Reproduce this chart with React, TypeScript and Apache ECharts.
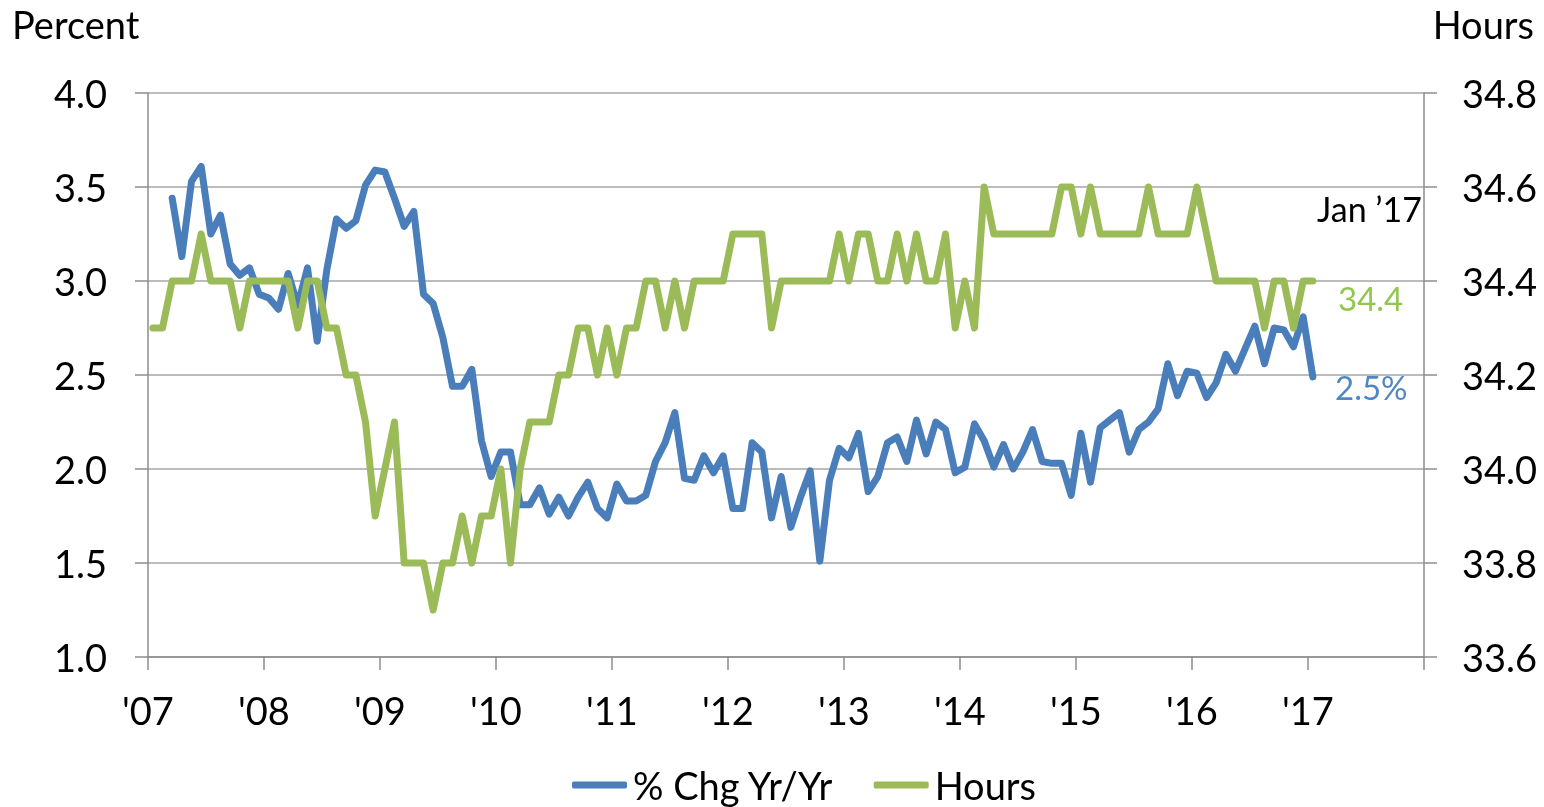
import { useEffect, useRef } from 'react';
import * as echarts from 'echarts';

// Monthly, Jan 2007 .. Jan 2017
const YEAR_LABELS = ["'07", "'08", "'09", "'10", "'11", "'12", "'13", "'14", "'15", "'16", "'17"];

const PCT_CHG: (number | null)[] = [
  null, null, 3.44, 3.13, 3.53, 3.61, 3.25, 3.35, 3.09, 3.03, 3.07, 2.93,
  2.91, 2.85, 3.04, 2.87, 3.07, 2.68, 3.06, 3.33, 3.28, 3.32, 3.51, 3.59,
  3.58, 3.44, 3.29, 3.37, 2.93, 2.88, 2.70, 2.44, 2.44, 2.53, 2.15, 1.96,
  2.09, 2.09, 1.81, 1.81, 1.90, 1.76, 1.85, 1.75, 1.85, 1.93, 1.79, 1.74,
  1.92, 1.83, 1.83, 1.86, 2.04, 2.14, 2.30, 1.95, 1.94, 2.07, 1.98, 2.07,
  1.79, 1.79, 2.14, 2.09, 1.74, 1.96, 1.69, 1.85, 1.99, 1.51, 1.94, 2.11,
  2.06, 2.19, 1.88, 1.96, 2.14, 2.17, 2.04, 2.26, 2.08, 2.25, 2.21, 1.98,
  2.01, 2.24, 2.15, 2.01, 2.13, 2.00, 2.09, 2.21, 2.04, 2.03, 2.03, 1.86,
  2.19, 1.93, 2.22, 2.26, 2.30, 2.09, 2.21, 2.25, 2.32, 2.56, 2.39, 2.52,
  2.51, 2.38, 2.46, 2.61, 2.52, 2.64, 2.76, 2.56, 2.75, 2.74, 2.65, 2.81,
  2.49,
];

const HOURS: number[] = [
  34.3, 34.3, 34.4, 34.4, 34.4, 34.5, 34.4, 34.4, 34.4, 34.3, 34.4, 34.4,
  34.4, 34.4, 34.4, 34.3, 34.4, 34.4, 34.3, 34.3, 34.2, 34.2, 34.1, 33.9,
  34.0, 34.1, 33.8, 33.8, 33.8, 33.7, 33.8, 33.8, 33.9, 33.8, 33.9, 33.9,
  34.0, 33.8, 34.0, 34.1, 34.1, 34.1, 34.2, 34.2, 34.3, 34.3, 34.2, 34.3,
  34.2, 34.3, 34.3, 34.4, 34.4, 34.3, 34.4, 34.3, 34.4, 34.4, 34.4, 34.4,
  34.5, 34.5, 34.5, 34.5, 34.3, 34.4, 34.4, 34.4, 34.4, 34.4, 34.4, 34.5,
  34.4, 34.5, 34.5, 34.4, 34.4, 34.5, 34.4, 34.5, 34.4, 34.4, 34.5, 34.3,
  34.4, 34.3, 34.6, 34.5, 34.5, 34.5, 34.5, 34.5, 34.5, 34.5, 34.6, 34.6,
  34.5, 34.6, 34.5, 34.5, 34.5, 34.5, 34.5, 34.6, 34.5, 34.5, 34.5, 34.5,
  34.6, 34.5, 34.4, 34.4, 34.4, 34.4, 34.4, 34.3, 34.4, 34.4, 34.3, 34.4,
  34.4,
];

const SERIES_NAMES = ['% Chg Yr/Yr', 'Hours'];
const LAST_LABELS = ['Jan ’17', '34.4', '2.5%'];

const FONT = 'Lato, "Open Sans", sans-serif';
const BLUE = '#4a7ebb';
const GREEN = '#9bbb59';
const AXIS = '#8c8c8c';
const GRID = '#a6a6a6';
const FS = 38;

function toPoints(values: (number | null)[]) {
  // each month sits in the middle of its slot on a months-since-Jan-2007 axis
  const pts: [number, number][] = [];
  values.forEach((v, i) => {
    if (v !== null) pts.push([i + 0.5, v]);
  });
  return pts;
}

export default function App() {
  const ref = useRef<HTMLDivElement>(null);

  useEffect(() => {
    if (!ref.current) return;
    const chart = echarts.init(ref.current, null, { renderer: 'svg' });
    const monthsSpan = YEAR_LABELS.length * 12; // through Jan 2018
    chart.setOption({
      animation: false,
      textStyle: { fontFamily: FONT },
      grid: { left: 148, right: 120, top: 93, bottom: 150, containLabel: false },
      xAxis: {
        type: 'value',
        min: 0,
        max: monthsSpan,
        interval: 12,
        axisLine: { lineStyle: { color: AXIS, width: 1.5 } },
        axisTick: { show: true, length: 13, lineStyle: { color: AXIS, width: 1.5 } },
        splitLine: { show: false },
        axisLabel: {
          formatter: (v: number) => YEAR_LABELS[Math.round(v / 12)] ?? '',
          fontSize: FS,
          color: '#000',
          margin: 34,
          fontFamily: FONT,
        },
      },
      yAxis: [
        {
          type: 'value',
          min: 1,
          max: 4,
          interval: 0.5,
          position: 'left',
          axisLine: { show: true, lineStyle: { color: AXIS, width: 1.5 } },
          axisTick: { show: true, length: 13, lineStyle: { color: AXIS, width: 1.5 } },
          splitLine: { show: true, lineStyle: { color: GRID, width: 1.5 } },
          axisLabel: {
            formatter: (v: number) => v.toFixed(1),
            fontSize: FS,
            color: '#000',
            margin: 41,
            fontFamily: FONT,
          },
        },
        {
          type: 'value',
          min: 33.6,
          max: 34.8,
          interval: 0.2,
          position: 'right',
          axisLine: { show: true, lineStyle: { color: AXIS, width: 1.5 } },
          axisTick: { show: true, length: 13, lineStyle: { color: AXIS, width: 1.5 } },
          splitLine: { show: false },
          axisLabel: {
            formatter: (v: number) => v.toFixed(1),
            fontSize: FS,
            color: '#000',
            margin: 38,
            fontFamily: FONT,
          },
        },
      ],
      legend: {
        data: SERIES_NAMES.map((n) => ({ name: n, icon: 'roundRect' })),
        left: 572,
        top: 764,
        padding: 0,
        itemWidth: 55,
        itemHeight: 7,
        itemGap: 40,
        textStyle: { fontSize: FS, lineHeight: 42, color: '#000', fontFamily: FONT, padding: [0, 0, 0, 1] },
      },
      series: [
        {
          name: SERIES_NAMES[0],
          type: 'line',
          yAxisIndex: 0,
          data: toPoints(PCT_CHG),
          symbol: 'none',
          color: BLUE,
          lineStyle: { color: BLUE, width: 7, cap: 'round', join: 'round' },
        },
        {
          name: SERIES_NAMES[1],
          type: 'line',
          yAxisIndex: 1,
          data: toPoints(HOURS),
          symbol: 'none',
          color: GREEN,
          lineStyle: { color: GREEN, width: 7, cap: 'round', join: 'round' },
        },
      ],
      graphic: [
        {
          type: 'text',
          left: 12,
          top: 5,
          style: { text: 'Percent', fontSize: FS, fill: '#000', fontFamily: FONT },
        },
        {
          type: 'text',
          right: 10,
          top: 5,
          style: { text: 'Hours', fontSize: FS, fill: '#000', fontFamily: FONT },
        },
        {
          type: 'text',
          right: 122,
          top: 191,
          style: { text: LAST_LABELS[0], fontSize: 34, fill: '#000', fontFamily: FONT },
        },
        {
          type: 'text',
          left: 1338,
          top: 281,
          style: { text: LAST_LABELS[1], fontSize: 33, fill: '#92c74f', fontFamily: FONT },
        },
        {
          type: 'text',
          left: 1335,
          top: 370,
          style: { text: LAST_LABELS[2], fontSize: 33, fill: '#4f86c6', fontFamily: FONT },
        },
      ],
    });
    return () => chart.dispose();
  }, []);

  return (
    <div
      ref={ref}
      style={{ position: 'fixed', left: 0, top: 0, width: 1544, height: 807 }}
    />
  );
}
